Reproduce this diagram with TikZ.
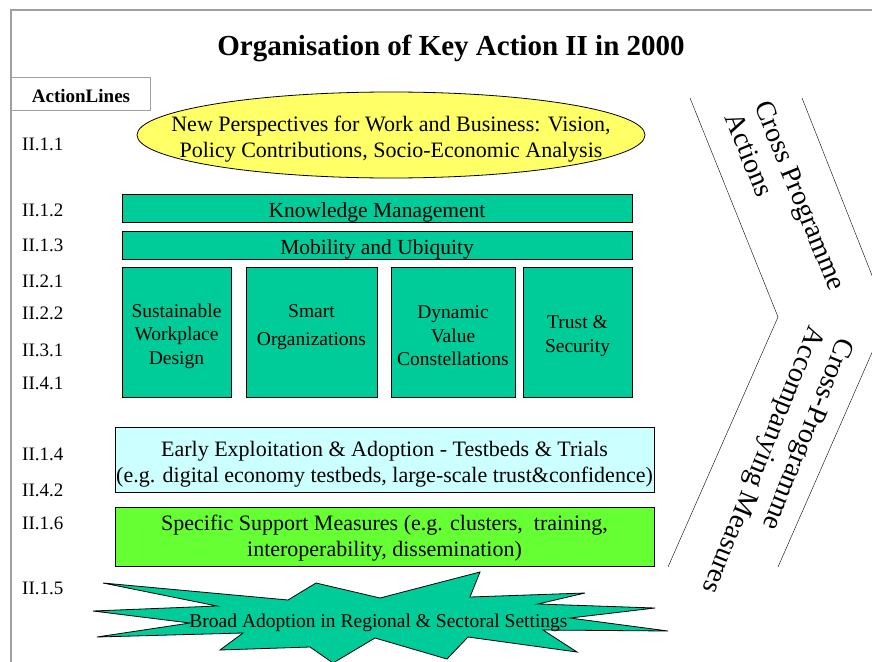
\documentclass[tikz,border=0pt]{standalone}
\usepackage{fontspec}
\setmainfont{Liberation Serif}
\usetikzlibrary{shapes.geometric}
\definecolor{tealbox}{RGB}{0,204,153}
\definecolor{yellowfill}{RGB}{255,255,102}
\definecolor{cyanfill}{RGB}{204,255,255}
\definecolor{greenfill}{RGB}{102,255,51}
\definecolor{framegray}{RGB}{160,160,160}
\tikzset{
  bar/.style={draw, line width=0.8pt, fill=tealbox, minimum width=510pt, minimum height=28pt, inner sep=0pt},
  area/.style={draw, line width=0.8pt, fill=tealbox, minimum height=130pt, inner sep=0pt},
  wide/.style={draw, line width=0.8pt, minimum width=539pt, inner sep=0pt},
  bigtext/.style={align=center, inner sep=0pt, font=\fontsize{22}{26}\selectfont},
  bartext/.style={inner sep=0pt, font=\fontsize{21.5}{24}\selectfont},
  areatext/.style={align=center, inner sep=0pt, font=\fontsize{19.5}{23.5}\selectfont},
  lineno/.style={anchor=west, inner sep=0pt, font=\fontsize{19}{22}\selectfont},
  sidetext/.style={rotate=#1, anchor=west, align=left, inner sep=0pt, font=\fontsize{28}{32}\selectfont}
}
\begin{document}
\begin{tikzpicture}[x=1pt,y=-1pt]
  \useasboundingbox (0,0) rectangle (872,661);
  \clip (0,0) rectangle (872,661);
  \draw[framegray, line width=1.5pt] (11,670) -- (11,10) -- (880,10);
  \node[font=\fontsize{29}{32}\selectfont\bfseries] (title) at (451,48) {Organisation of Key Action II in 2000};
  \node[draw=framegray, line width=1pt, minimum width=139pt, minimum height=33pt, inner sep=0pt] (lines) at (81,93.5) {};
  \node[font=\fontsize{19}{22}\selectfont\bfseries, inner sep=0pt] (linest) at ([yshift=-2.5pt]lines.center) {ActionLines};

  \foreach \code/\y in {II.1.1/144, II.1.2/210, II.1.3/245, II.2.1/281, II.2.2/313, II.3.1/350,
    II.4.1/383, II.1.4/454, II.4.2/490, II.1.6/523, II.1.5/588}
    \node[lineno] (code\y) at (22,\y) {\code};

  \node[ellipse, draw, line width=0.8pt, fill=yellowfill, minimum width=508pt, minimum height=86pt, inner sep=0pt] (vision) at (391,135) {};
  \node[bigtext] (visiont) at ([yshift=-4pt]vision.center)
    {New Perspectives for Work and Business: Vision,\\Policy Contributions, Socio-Economic Analysis};

  \node[bar] (km) at (377,208) {};
  \node[bartext] (kmt) at ([yshift=-4pt]km.center) {Knowledge Management};
  \node[bar] (mu) at (377,245) {};
  \node[bartext] (mut) at ([yshift=-4pt]mu.center) {Mobility and Ubiquity};

  \node[area, minimum width=109pt] (swd) at (176.5,332) {};
  \node[areatext] (swdt) at ([yshift=-4pt]swd.center) {Sustainable\\Workplace\\Design};
  \node[area, minimum width=131pt] (so) at (311.5,332) {};
  \node[areatext] (sot) at ([yshift=5pt]so.center) {Smart\\[4.5pt]Organizations};
  \node[area, minimum width=124pt] (dvc) at (453,332) {};
  \node[areatext] (dvct) at ([yshift=-4pt]dvc.center) {Dynamic\\Value\\Constellations};
  \node[area, minimum width=109pt] (ts) at (577.5,332) {};
  \node[areatext] (tst) at ([yshift=-4pt]ts.center) {Trust \&\\Security};

  \node[wide, fill=cyanfill, minimum height=65pt] (early) at (384.5,459.5) {};
  \node[bigtext] (earlyt) at ([yshift=-5pt]early.center)
    {Early Exploitation \& Adoption - Testbeds \& Trials\\(e.g. digital economy testbeds, large-scale trust\&confidence)};
  \node[wide, fill=greenfill, minimum height=59pt] (support) at (384.5,536.5) {};
  \node[bigtext] (supportt) at ([yshift=-2pt]support.center)
    {Specific Support Measures (e.g. clusters,~ training,\\interoperability, dissemination)};

  \draw[fill=tealbox, line width=0.8pt] (103,583) -- (288,600) -- (316,583) -- (380,598) -- (480,572) -- (470,597)
    -- (585,593) -- (538,604) -- (655,608) -- (570,618) -- (668,631) -- (543,630) -- (577,652) -- (468,637)
    -- (447,659) -- (375,638) -- (333,663) -- (310,647) -- (220,650) -- (243,633) -- (97,637) -- (190,623)
    -- (93,611) -- (217,606) -- cycle;
  \node[font=\fontsize{19.5}{22}\selectfont, inner sep=0pt] (broad) at (378.5,623) {Broad Adoption in Regional \& Sectoral Settings};

  \coordinate (ca) at (690,98);
  \coordinate (cb) at (778,317);
  \coordinate (cc) at (668,567);
  \coordinate (cd) at (802,98);
  \coordinate (ce) at (888,316);
  \coordinate (cf) at (778,567);
  \draw (ca) -- (cb) -- (cc);
  \draw (cd) -- (ce) -- (cf);
  \node[sidetext=-68] (cpa) at (748,108) {Cross Programme\\Actions};
  \node[sidetext=-112] (cpam) at (830,333) {Cross-Programme\\Accompanying Measures};
\end{tikzpicture}
\end{document}
